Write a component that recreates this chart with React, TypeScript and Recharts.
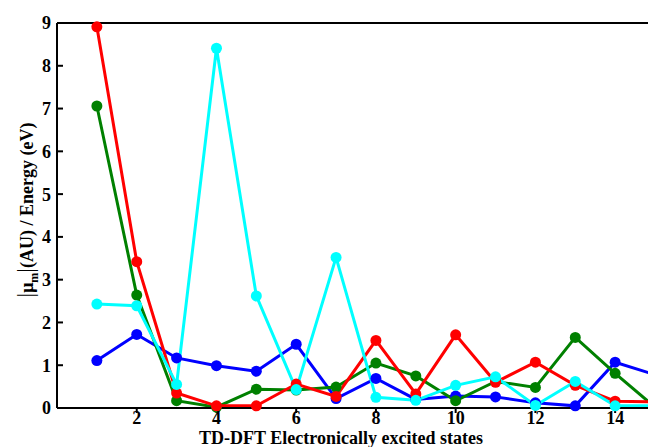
import { LineChart, Line, XAxis, YAxis } from "recharts";

const states = [1, 2, 3, 4, 5, 6, 7, 8, 9, 10, 11, 12, 13, 14, 15];
const redValues = [8.91, 3.42, 0.35, 0.05, 0.05, 0.56, 0.27, 1.58, 0.33, 1.71, 0.6, 1.07, 0.53, 0.16, 0.14];
const greenValues = [7.06, 2.64, 0.17, 0.02, 0.44, 0.42, 0.49, 1.05, 0.75, 0.17, 0.62, 0.48, 1.65, 0.81, 0.02];
const blueValues = [1.11, 1.72, 1.17, 0.99, 0.86, 1.49, 0.22, 0.69, 0.2, 0.28, 0.26, 0.12, 0.05, 1.07, 0.78];
const cyanValues = [2.43, 2.39, 0.55, 8.41, 2.62, 0.43, 3.52, 0.25, 0.18, 0.53, 0.73, 0.06, 0.62, 0.05, 0.05];

const xTicks = [2, 4, 6, 8, 10, 12, 14];
const yTicks = [0, 1, 2, 3, 4, 5, 6, 7, 8, 9];

const FONT = '"Liberation Serif", "Times New Roman", serif';

const data = states.map((s, i) => ({
  state: s,
  red: redValues[i],
  green: greenValues[i],
  blue: blueValues[i],
  cyan: cyanValues[i],
}));

const tickStyle = { fontSize: 18, fontWeight: "bold", fill: "#000", fontFamily: FONT };
const axisLine = { stroke: "#000", strokeWidth: 2 };

// drawing order matches the figure: blue under, cyan on top
const SERIES = [
  { key: "blue", color: "#0000ff" },
  { key: "green", color: "#008000" },
  { key: "red", color: "#ff0000" },
  { key: "cyan", color: "#00ffff" },
];

export default function App() {
  return (
    <div
      style={{
        position: "fixed",
        left: 0,
        top: 0,
        width: 648,
        height: 447,
        overflow: "hidden",
        background: "#fff",
      }}
    >
      <LineChart
        width={700}
        height={447}
        data={data}
        margin={{ top: 20, right: 40, bottom: 0, left: 0 }}
      >
        <XAxis
          dataKey="state"
          type="number"
          domain={[0, 15]}
          ticks={xTicks}
          axisLine={axisLine}
          tickLine={axisLine}
          tickSize={5}
          tickMargin={-2}
          tick={tickStyle}
          height={39}
        />
        <XAxis
          xAxisId="top"
          orientation="top"
          type="number"
          domain={[0, 15]}
          ticks={xTicks}
          axisLine={axisLine}
          tickLine={axisLine}
          tickSize={-6}
          tick={false}
          height={3}
        />
        <YAxis
          type="number"
          domain={[0, 9]}
          ticks={yTicks}
          axisLine={axisLine}
          tickLine={axisLine}
          tickSize={-6}
          tickMargin={12}
          tick={tickStyle}
          width={57}
        />
        <YAxis
          yAxisId="right"
          orientation="right"
          type="number"
          domain={[0, 9]}
          ticks={yTicks}
          axisLine={axisLine}
          tickLine={axisLine}
          tickSize={-7}
          tick={false}
          width={5}
        />
        {SERIES.map((s) => (
          <Line
            key={s.key}
            dataKey={s.key}
            stroke={s.color}
            strokeWidth={3}
            dot={{ r: 5.5, fill: s.color, stroke: s.color, strokeWidth: 0 }}
            activeDot={false}
            isAnimationActive={false}
          />
        ))}
      </LineChart>
      <svg
        width={648}
        height={447}
        style={{ position: "absolute", left: 0, top: 0, pointerEvents: "none" }}
      >
        <text
          x={341}
          y={444}
          textAnchor="middle"
          fontFamily={FONT}
          fontWeight="bold"
          fontSize={18}
        >
          TD-DFT Electronically excited states
        </text>
        <text
          transform="translate(33, 210) rotate(-90)"
          textAnchor="middle"
          fontFamily={FONT}
          fontWeight="bold"
          fontSize={18}
        >
          <tspan fontSize={23} fontWeight="normal">|</tspan>
          <tspan>μ</tspan>
          <tspan fontSize={12} dy={5}>m</tspan>
          <tspan fontSize={23} fontWeight="normal" dy={-5}>|</tspan>
          <tspan>(AU) / Energy (eV)</tspan>
        </text>
      </svg>
    </div>
  );
}
